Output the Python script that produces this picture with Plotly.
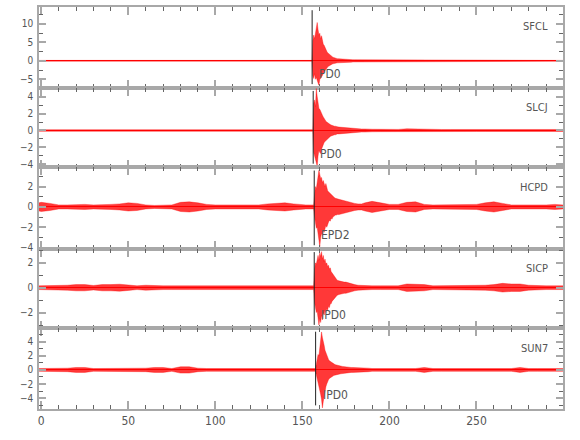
import plotly.graph_objects as go

# ---------------- data ----------------
STATIONS = ["SFCL", "SLCJ", "HCPD", "SICP", "SUN7"]
PICK_TIMES = [155.6, 156.2, 156.8, 156.8, 157.6]
PICK_LABELS = ["PD0", "PD0", "EPD2", "IPD0", "IPD0"]

# time (s) at which the trace envelopes were read
TIME = [-1.3, 0, 5, 10, 15, 20, 25, 30, 35, 40, 45, 50, 55, 60, 65, 70, 75, 80, 85, 90,
        95, 100, 105, 110, 115, 120, 125, 130, 135, 140, 145, 150, 152, 154,
        155.0, 155.5, 156.0, 156.5, 157.0, 157.5, 158.0, 158.5, 159.0, 159.5,
        160.0, 160.5, 161.0, 161.5, 162.0, 162.5, 163.0, 163.5, 164.0, 164.5,
        165.0, 165.5, 166.0, 166.5, 167.0, 167.5, 168.0, 168.5, 169.0, 169.5, 170.0,
        171, 172, 173, 174, 175, 176, 177, 178, 179, 180, 182, 184, 186, 188, 190,
        195, 200, 205, 210, 215, 220, 225, 230, 235, 240, 245, 250, 255, 260, 265,
        270, 275, 280, 285, 290, 295, 299.7]

# upper / lower envelope of each trace
SFCL_UPPER = [0.12, 0.12, 0.12, 0.12, 0.12, 0.12, 0.12, 0.12, 0.12, 0.12, 0.12, 0.12, 0.12, 0.12, 0.12, 0.12, 0.12,
              0.12, 0.12, 0.12, 0.12, 0.12, 0.12, 0.12, 0.12, 0.12, 0.12, 0.12, 0.12, 0.12, 0.12, 0.12, 0.12, 0.12,
              0.12, 0.12, 5.5, 7.0, 6.0, 8.0, 9.0, 10.4, 8.5, 7.0, 7.5, 6.0, 6.8, 5.0, 4.5, 4.2, 3.5, 3.0, 2.6, 2.2,
              2.0, 1.6, 1.4, 1.2, 1.0, 1.0, 0.9, 0.8, 0.7, 0.7, 0.6,
              0.55, 0.5, 0.5, 0.45, 0.4, 0.4, 0.35, 0.35, 0.3, 0.3, 0.3, 0.25, 0.25, 0.25, 0.2,
              0.2, 0.18, 0.18, 0.16, 0.16, 0.15, 0.15, 0.14, 0.14, 0.13, 0.13, 0.12, 0.12, 0.12, 0.12,
              0.12, 0.12, 0.12, 0.12, 0.12, 0.12, 0.12]
SFCL_LOWER = [-0.12, -0.12, -0.12, -0.12, -0.12, -0.12, -0.12, -0.12, -0.12, -0.12, -0.12, -0.12, -0.12, -0.12, -0.12, -0.12, -0.12,
              -0.12, -0.12, -0.12, -0.12, -0.12, -0.12, -0.12, -0.12, -0.12, -0.12, -0.12, -0.12, -0.12, -0.12, -0.12, -0.12, -0.12,
              -0.12, -0.12, -4.0, -4.8, -3.5, -5.0, -4.5, -5.5, -6.0, -6.6, -5.0, -4.8, -4.2, -3.8, -3.5, -3.0, -2.6, -2.2, -2.0, -1.7,
              -1.5, -1.3, -1.1, -1.0, -0.9, -0.8, -0.8, -0.7, -0.6, -0.6, -0.55,
              -0.55, -0.5, -0.5, -0.45, -0.4, -0.4, -0.35, -0.35, -0.3, -0.3, -0.3, -0.25, -0.25, -0.25, -0.2,
              -0.2, -0.18, -0.18, -0.16, -0.16, -0.15, -0.15, -0.14, -0.14, -0.13, -0.13, -0.12, -0.12, -0.12, -0.12,
              -0.12, -0.12, -0.12, -0.12, -0.12, -0.12, -0.12]

SLCJ_UPPER = [0.1, 0.1, 0.1, 0.1, 0.1, 0.1, 0.1, 0.1, 0.1, 0.1, 0.1, 0.14, 0.12, 0.1, 0.1, 0.1, 0.1,
              0.1, 0.1, 0.1, 0.1, 0.1, 0.1, 0.1, 0.1, 0.1, 0.1, 0.1, 0.1, 0.1, 0.1, 0.1, 0.1, 0.1,
              0.1, 0.1, 0.1, 3.2, 3.6, 2.8, 4.95, 4.0, 3.0, 2.6, 2.5, 2.2, 2.0, 1.8, 1.6, 1.4, 1.2, 1.1, 1.0, 0.9,
              0.8, 0.75, 0.7, 0.65, 0.6, 0.55, 0.55, 0.5, 0.5, 0.45, 0.45,
              0.4, 0.38, 0.35, 0.33, 0.3, 0.28, 0.25, 0.25, 0.22, 0.2, 0.2, 0.18, 0.18, 0.15, 0.15,
              0.14, 0.13, 0.13, 0.2, 0.16, 0.12, 0.12, 0.12, 0.12, 0.12, 0.12, 0.12, 0.12, 0.12, 0.12,
              0.12, 0.12, 0.12, 0.12, 0.12, 0.12, 0.12]
SLCJ_LOWER = [-0.1, -0.1, -0.1, -0.1, -0.1, -0.1, -0.1, -0.1, -0.1, -0.1, -0.1, -0.14, -0.12, -0.1, -0.1, -0.1, -0.1,
              -0.1, -0.1, -0.1, -0.1, -0.1, -0.1, -0.1, -0.1, -0.1, -0.1, -0.1, -0.1, -0.1, -0.1, -0.1, -0.1, -0.1,
              -0.1, -0.1, -0.1, -2.6, -3.0, -3.3, -3.6, -4.2, -3.0, -2.3, -2.6, -2.7, -2.2, -1.9, -1.6, -1.4, -1.3, -1.2, -1.0, -0.9,
              -0.85, -0.75, -0.7, -0.65, -0.6, -0.55, -0.55, -0.5, -0.5, -0.45, -0.4,
              -0.4, -0.38, -0.35, -0.33, -0.3, -0.28, -0.25, -0.25, -0.22, -0.2, -0.2, -0.18, -0.18, -0.15, -0.15,
              -0.14, -0.13, -0.13, -0.2, -0.16, -0.12, -0.12, -0.12, -0.12, -0.12, -0.12, -0.12, -0.12, -0.12, -0.12,
              -0.12, -0.12, -0.12, -0.12, -0.12, -0.12, -0.12]

HCPD_UPPER = [0.4, 0.45, 0.35, 0.2, 0.2, 0.25, 0.25, 0.2, 0.2, 0.25, 0.3, 0.4, 0.35, 0.2, 0.15, 0.15, 0.2,
              0.45, 0.5, 0.4, 0.25, 0.2, 0.2, 0.2, 0.2, 0.25, 0.2, 0.3, 0.35, 0.4, 0.3, 0.2, 0.2, 0.2,
              0.2, 0.2, 0.2, 0.2, 1.2, 2.0, 1.8, 2.6, 3.0, 3.6, 3.2, 2.8, 2.9, 2.4, 2.6, 2.2, 2.0, 2.3, 1.8, 1.6,
              1.5, 1.4, 1.3, 1.2, 1.1, 1.0, 1.0, 0.9, 0.85, 0.8, 0.8,
              0.75, 0.7, 0.7, 0.65, 0.6, 0.55, 0.5, 0.45, 0.4, 0.35, 0.3, 0.3, 0.4, 0.5, 0.55,
              0.4, 0.25, 0.25, 0.45, 0.5, 0.25, 0.2, 0.2, 0.2, 0.2, 0.2, 0.25, 0.4, 0.5, 0.35,
              0.2, 0.2, 0.2, 0.15, 0.2, 0.25, 0.2]
HCPD_LOWER = [-0.4, -0.45, -0.35, -0.2, -0.2, -0.25, -0.25, -0.2, -0.2, -0.25, -0.3, -0.4, -0.35, -0.2, -0.15, -0.15, -0.2,
              -0.45, -0.5, -0.4, -0.25, -0.2, -0.2, -0.2, -0.2, -0.25, -0.2, -0.3, -0.35, -0.4, -0.3, -0.2, -0.2, -0.2,
              -0.2, -0.2, -0.2, -0.2, -1.0, -1.8, -2.1, -2.0, -2.6, -3.2, -3.9, -3.0, -2.6, -2.8, -2.3, -2.5, -2.0, -1.8, -2.0, -1.6,
              -1.5, -1.3, -1.4, -1.1, -1.2, -1.0, -0.9, -0.9, -0.8, -0.8, -0.75,
              -0.75, -0.7, -0.7, -0.65, -0.6, -0.55, -0.5, -0.45, -0.4, -0.35, -0.3, -0.3, -0.4, -0.5, -0.55,
              -0.4, -0.25, -0.25, -0.45, -0.5, -0.25, -0.2, -0.2, -0.2, -0.2, -0.2, -0.25, -0.4, -0.5, -0.35,
              -0.2, -0.2, -0.2, -0.15, -0.2, -0.25, -0.2]

SICP_UPPER = [0.15, 0.15, 0.15, 0.18, 0.2, 0.25, 0.25, 0.18, 0.25, 0.25, 0.28, 0.22, 0.15, 0.2, 0.15, 0.15, 0.15,
              0.18, 0.15, 0.15, 0.15, 0.15, 0.15, 0.15, 0.15, 0.15, 0.15, 0.15, 0.15, 0.15, 0.15, 0.15, 0.15, 0.15,
              0.15, 0.15, 0.15, 0.15, 1.5, 2.0, 1.9, 2.4, 2.6, 2.2, 2.8, 2.5, 2.9, 2.3, 2.6, 2.1, 2.3, 1.9, 2.0, 1.7,
              1.8, 1.5, 1.6, 1.3, 1.2, 1.0, 0.9, 0.8, 0.75, 0.7, 0.6,
              0.55, 0.5, 0.5, 0.45, 0.45, 0.4, 0.4, 0.35, 0.3, 0.25, 0.2, 0.18, 0.18, 0.15, 0.15,
              0.15, 0.15, 0.15, 0.3, 0.3, 0.25, 0.15, 0.15, 0.15, 0.15, 0.15, 0.15, 0.2, 0.25, 0.35,
              0.3, 0.3, 0.2, 0.15, 0.15, 0.15, 0.15]
SICP_LOWER = [-0.15, -0.15, -0.15, -0.18, -0.2, -0.25, -0.25, -0.18, -0.25, -0.25, -0.28, -0.22, -0.15, -0.2, -0.15, -0.15, -0.15,
              -0.18, -0.15, -0.15, -0.15, -0.15, -0.15, -0.15, -0.15, -0.15, -0.15, -0.15, -0.15, -0.15, -0.15, -0.15, -0.15, -0.15,
              -0.15, -0.15, -0.15, -0.15, -1.2, -1.8, -2.0, -1.9, -2.6, -3.0, -2.5, -2.8, -2.2, -2.6, -2.0, -2.2, -1.8, -2.0, -1.7, -1.8,
              -1.5, -1.6, -1.3, -1.3, -1.1, -1.0, -0.9, -0.8, -0.7, -0.65, -0.6,
              -0.55, -0.5, -0.5, -0.45, -0.45, -0.4, -0.4, -0.35, -0.3, -0.25, -0.2, -0.18, -0.18, -0.15, -0.15,
              -0.15, -0.15, -0.15, -0.3, -0.3, -0.25, -0.15, -0.15, -0.15, -0.15, -0.15, -0.15, -0.2, -0.25, -0.35,
              -0.3, -0.3, -0.2, -0.15, -0.15, -0.15, -0.15]

SUN7_UPPER = [0.2, 0.2, 0.2, 0.2, 0.25, 0.35, 0.35, 0.2, 0.2, 0.2, 0.2, 0.2, 0.2, 0.25, 0.35, 0.35, 0.2,
              0.45, 0.45, 0.25, 0.2, 0.2, 0.2, 0.2, 0.2, 0.2, 0.2, 0.2, 0.2, 0.25, 0.3, 0.2, 0.2, 0.2,
              0.2, 0.2, 0.2, 0.2, 0.2, 0.2, 0.8, 1.5, 2.2, 2.0, 3.0, 3.8, 5.4, 4.6, 4.2, 3.5, 2.8, 2.4, 2.0, 1.7,
              1.5, 1.3, 1.2, 1.1, 1.0, 0.9, 0.85, 0.8, 0.75, 0.7, 0.65,
              0.6, 0.55, 0.5, 0.45, 0.45, 0.4, 0.4, 0.35, 0.35, 0.35, 0.35, 0.3, 0.3, 0.25, 0.2,
              0.2, 0.2, 0.2, 0.2, 0.2, 0.35, 0.2, 0.2, 0.2, 0.2, 0.2, 0.2, 0.2, 0.2, 0.2,
              0.2, 0.35, 0.2, 0.2, 0.2, 0.2, 0.2]
SUN7_LOWER = [-0.2, -0.2, -0.2, -0.2, -0.25, -0.35, -0.35, -0.2, -0.2, -0.2, -0.2, -0.2, -0.2, -0.25, -0.35, -0.35, -0.2,
              -0.45, -0.45, -0.25, -0.2, -0.2, -0.2, -0.2, -0.2, -0.2, -0.2, -0.2, -0.2, -0.25, -0.3, -0.2, -0.2, -0.2,
              -0.2, -0.2, -0.2, -0.2, -0.2, -0.2, -0.7, -1.2, -2.0, -2.5, -2.8, -3.5, -4.2, -5.4, -4.5, -3.6, -3.2, -2.4, -2.0, -1.6,
              -1.4, -1.2, -1.1, -1.0, -0.9, -0.85, -0.8, -0.75, -0.7, -0.65, -0.6,
              -0.6, -0.55, -0.5, -0.45, -0.45, -0.4, -0.4, -0.35, -0.35, -0.35, -0.35, -0.3, -0.3, -0.25, -0.2,
              -0.2, -0.2, -0.2, -0.2, -0.2, -0.35, -0.2, -0.2, -0.2, -0.2, -0.2, -0.2, -0.2, -0.2, -0.2,
              -0.2, -0.35, -0.2, -0.2, -0.2, -0.2, -0.2]

UPPERS = [SFCL_UPPER, SLCJ_UPPER, HCPD_UPPER, SICP_UPPER, SUN7_UPPER]
LOWERS = [SFCL_LOWER, SLCJ_LOWER, HCPD_LOWER, SICP_LOWER, SUN7_LOWER]

# ---------------- styling ----------------
FONT = "Liberation Sans Narrow, DejaVu Sans Condensed, Roboto, sans-serif"
TXT = "#555555"
AX = "#a8a8a8"
RED_FILL = "rgba(255,0,0,0.78)"
RED_LINE = "rgba(255,0,0,0.7)"

Y_RANGES = [[-7.3, 14.6], [-4.33, 5.03], [-4.13, 3.9], [-3.28, 3.12], [-5.55, 5.89]]
Y_DTICK = [5, 2, 2, 2, 2]
Y_MINOR = [2.5, 1, 1, 1, 1]
DOMAINS = [[0.7991, 1.0], [0.6013, 0.7991], [0.3982, 0.6013], [0.2003, 0.3982], [0.0, 0.2003]]
X_RANGE = [-1.3, 299.7]

fig = go.Figure()
layout = {}
shapes = []
annotations = []

for i in range(5):
    n = i + 1
    xa = "x" if n == 1 else f"x{n}"
    ya = "y" if n == 1 else f"y{n}"
    fig.add_trace(go.Scatter(x=TIME, y=LOWERS[i], xaxis=xa, yaxis=ya, mode="lines",
                             line=dict(color=RED_LINE, width=0.5), hoverinfo="skip",
                             showlegend=False))
    fig.add_trace(go.Scatter(x=TIME, y=UPPERS[i], xaxis=xa, yaxis=ya, mode="lines",
                             line=dict(color=RED_LINE, width=0.5), fill="tonexty",
                             fillcolor=RED_FILL, name=STATIONS[i], showlegend=False))

    xkey = "xaxis" if n == 1 else f"xaxis{n}"
    ykey = "yaxis" if n == 1 else f"yaxis{n}"
    layout[xkey] = dict(
        domain=[0, 1], anchor=ya, range=X_RANGE, showgrid=False, zeroline=False,
        showline=True, linecolor=AX, linewidth=1.5, mirror="ticks",
        ticks="inside", ticklen=8, tickwidth=2, tickcolor=AX, tick0=0, dtick=50,
        minor=dict(ticks="inside", ticklen=4, tickwidth=1, tickcolor="#666666", dtick=10),
        showticklabels=(n == 5), tickfont=dict(family=FONT, size=12, color=TXT),
    )
    if n != 1:
        layout[xkey]["matches"] = "x"
    layout[ykey] = dict(
        domain=DOMAINS[i], anchor=xa, range=Y_RANGES[i], showgrid=False,
        zeroline=True, zerolinecolor="#ff0000", zerolinewidth=1,
        showline=True, linecolor=AX, linewidth=1.5, mirror="ticks",
        ticks="inside", ticklen=7, tickwidth=2, tickcolor=AX, tick0=0, dtick=Y_DTICK[i],
        minor=dict(ticks="inside", ticklen=4, tickwidth=1, tickcolor="#666666", dtick=Y_MINOR[i]),
        tickfont=dict(family=FONT, size=10, color=TXT), ticklabelstandoff=2,
    )

    shapes.append(dict(type="line", xref=xa, yref=f"{ya} domain",
                       x0=PICK_TIMES[i], x1=PICK_TIMES[i], y0=0.045, y1=0.96,
                       line=dict(color="#222222", width=1), layer="above"))
    annotations.append(dict(text=PICK_LABELS[i], xref=xa, yref=f"{ya} domain",
                            x=PICK_TIMES[i], y=0.17, xanchor="left", yanchor="middle",
                            xshift=5, showarrow=False,
                            font=dict(family=FONT, size=12, color=TXT)))
    annotations.append(dict(text=STATIONS[i], xref=f"{xa} domain", yref=f"{ya} domain",
                            x=1, y=0.753, xanchor="right", yanchor="middle",
                            xshift=-13, showarrow=False,
                            font=dict(family=FONT, size=11, color=TXT)))

fig.update_layout(
    width=580, height=440,
    margin=dict(l=39, r=17, t=5, b=31),
    paper_bgcolor="white", plot_bgcolor="white",
    shapes=shapes, annotations=annotations,
    **layout,
)

fig.write_html("out.html", config={"displayModeBar": False},
               post_script="document.body.style.margin='0';document.body.style.padding='0';")
